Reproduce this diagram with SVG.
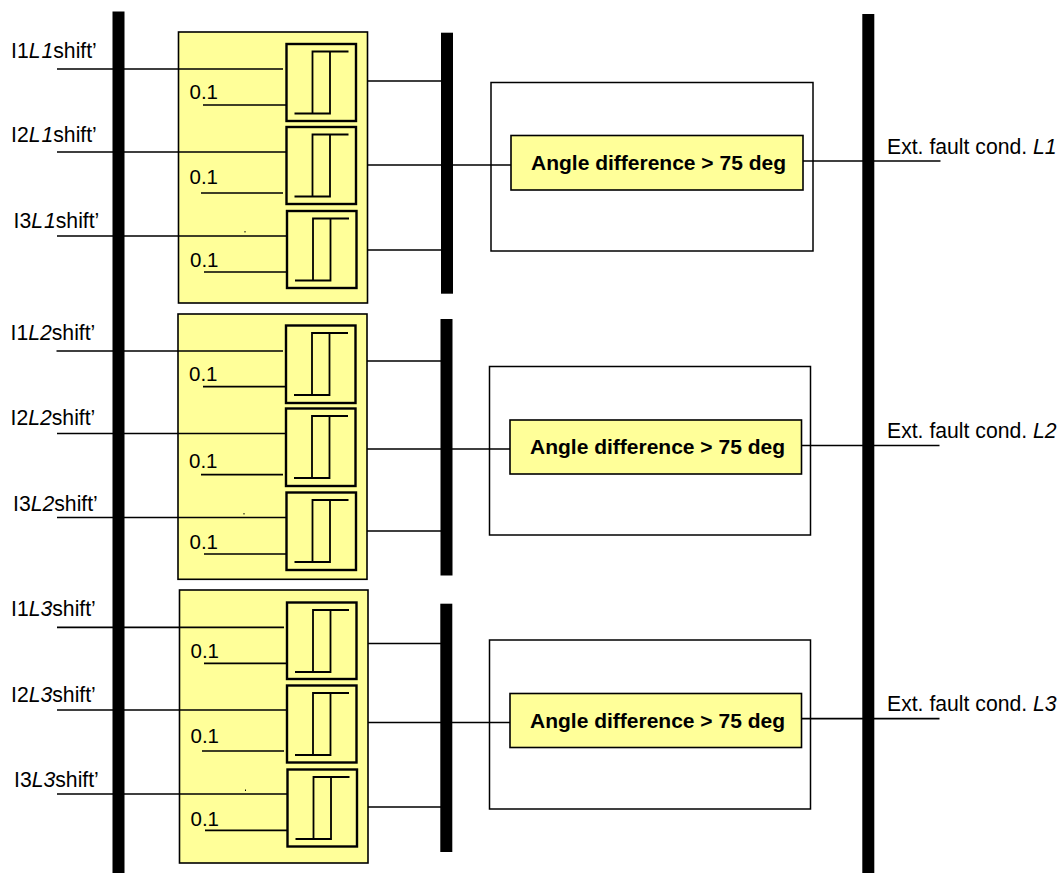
<svg xmlns="http://www.w3.org/2000/svg" xmlns:xlink="http://www.w3.org/1999/xlink" width="1062" height="873" viewBox="0 0 1062 873">
<style>
text{font-family:"Liberation Sans",Arial,sans-serif;font-size:21.200px;fill:#000}
.it{font-style:italic}
.b{font-weight:bold;font-size:21px}
.v{font-size:20.500px}
.bar{fill:#000}
.panel{fill:#FFFF99;stroke:#000;stroke-width:1.6}
.frame{fill:#fff;stroke:#000;stroke-width:1.5}
.calc{fill:#FFFF99;stroke:#000;stroke-width:1.6}
.relay{fill:#FFFF99;stroke:#000;stroke-width:2.4}
.hyst{fill:none;stroke:#000;stroke-width:1.800}
.w{stroke:#000;stroke-width:1.700;fill:none}
</style>
<defs>
<path id="h" class="hyst" d="M8 69.500H43.500V7.500H26V69.500M26 7.500H62"/>
</defs>
<g id="panels">
<g id="panel-1"><rect class="panel" x="178.500" y="32" width="189" height="271"/></g>
<g id="panel-2"><rect class="panel" x="178" y="314" width="189" height="265.300"/></g>
<g id="panel-3"><rect class="panel" x="179.500" y="590" width="188.500" height="273"/></g>
</g>
<g id="frames">
<rect class="frame" x="491" y="82.500" width="322" height="168.500"/>
<rect class="frame" x="489.500" y="366.500" width="321" height="168.500"/>
<rect class="frame" x="489.500" y="640" width="321" height="169"/>
</g>
<g id="connectors">
<path class="w" d="M57 69H283M57 152H286M57 236H287M203 105H286M201 193H283M204 272H287"/>
<path class="w" d="M367.500 81H441M367.500 165H511M367.500 250H441"/>
<path class="w" d="M803 161H940.500"/>
<path class="w" d="M56.500 351H283M57 433.500H285M57 517.500H286M203 386.700H285M201 474.700H283M204 554H286"/>
<path class="w" d="M367 361H441M367 449H510M367 531H441"/>
<path class="w" d="M802 445.500H939.500"/>
<path class="w" d="M57 627.300H284M57 710H286M57 794H287M204 663.300H286M202 751H284M205 830.300H287"/>
<path class="w" d="M368 643.500H441M368 722.500H510M368 807H441"/>
<path class="w" d="M802 718.700H939.500"/>
</g>
<g id="buses">
<rect id="bus-left" class="bar" x="112.500" y="11.500" width="12" height="861.500"/>
<rect id="bus-right" class="bar" x="862.300" y="14" width="12" height="859"/>
<rect id="bus-1" class="bar" x="441" y="32.700" width="12" height="261"/>
<rect id="bus-2" class="bar" x="440.500" y="319" width="12" height="256.500"/>
<rect id="bus-3" class="bar" x="440.300" y="603.700" width="12" height="248.300"/>
</g>
<g id="relay-1-1" transform="translate(286.500 44)"><rect class="relay" width="69.500" height="77"/><use xlink:href="#h" href="#h"/></g>
<g id="relay-1-2" transform="translate(286.500 127)"><rect class="relay" width="69.500" height="77"/><use xlink:href="#h" href="#h"/></g>
<g id="relay-1-3" transform="translate(287 211)"><rect class="relay" width="69.500" height="77"/><use xlink:href="#h" href="#h"/></g>
<g id="relay-2-1" transform="translate(286 325.500)"><rect class="relay" width="69.500" height="77.500"/><use xlink:href="#h" href="#h"/></g>
<g id="relay-2-2" transform="translate(286 408.500)"><rect class="relay" width="69.500" height="77.500"/><use xlink:href="#h" href="#h"/></g>
<g id="relay-2-3" transform="translate(286.500 492.500)"><rect class="relay" width="69.500" height="77.500"/><use xlink:href="#h" href="#h"/></g>
<g id="relay-3-1" transform="translate(287 602.500)"><rect class="relay" width="69.500" height="76.500"/><use xlink:href="#h" href="#h"/></g>
<g id="relay-3-2" transform="translate(287 685.500)"><rect class="relay" width="69.500" height="77"/><use xlink:href="#h" href="#h"/></g>
<g id="relay-3-3" transform="translate(287.500 769.500)"><rect class="relay" width="69.500" height="77"/><use xlink:href="#h" href="#h"/></g>
<g id="calc-1"><rect class="calc" x="511" y="135.500" width="292" height="54.500"/><text class="b" x="531" y="170">Angle difference &gt; 75 deg</text></g>
<g id="calc-2"><rect class="calc" x="510" y="420" width="291.500" height="54"/><text class="b" x="530" y="454">Angle difference &gt; 75 deg</text></g>
<g id="calc-3"><rect class="calc" x="510" y="693.500" width="291.500" height="54"/><text class="b" x="530" y="728">Angle difference &gt; 75 deg</text></g>
<g id="labels-inputs">
<text x="11" y="58">I1<tspan class="it">L</tspan><tspan class="it" dx="1">1</tspan>shift’</text>
<text x="11" y="142">I2<tspan class="it">L</tspan><tspan class="it" dx="1">1</tspan>shift’</text>
<text x="13.500" y="228">I3<tspan class="it">L</tspan><tspan class="it" dx="1">1</tspan>shift’</text>
<text x="10.500" y="339.500">I1<tspan class="it">L2</tspan>shift’</text>
<text x="10.500" y="425">I2<tspan class="it">L2</tspan>shift’</text>
<text x="13" y="510.500">I3<tspan class="it">L2</tspan>shift’</text>
<text x="11" y="616">I1<tspan class="it">L3</tspan>shift’</text>
<text x="11" y="702">I2<tspan class="it">L3</tspan>shift’</text>
<text x="14" y="787">I3<tspan class="it">L3</tspan>shift’</text>
</g>
<g id="labels-threshold">
<text class="v" x="189.500" y="99">0.1</text><text class="v" x="189.500" y="184">0.1</text><text class="v" x="190" y="266.700">0.1</text>
<text class="v" x="189" y="381">0.1</text><text class="v" x="189" y="467.700">0.1</text><text class="v" x="189.500" y="549">0.1</text>
<text class="v" x="190.500" y="658.300">0.1</text><text class="v" x="190.500" y="743.300">0.1</text><text class="v" x="190.500" y="826">0.1</text>
</g>
<g id="labels-outputs">
<text x="887" y="153.500">Ext. fault cond. <tspan class="it">L1</tspan></text>
<text x="887" y="438">Ext. fault cond. <tspan class="it">L2</tspan></text>
<text x="887" y="710.700">Ext. fault cond. <tspan class="it">L3</tspan></text>
</g>
<g id="specks">
<rect class="bar" x="244.500" y="231" width="1" height="1.500"/>
<rect class="bar" x="243.500" y="513" width="1" height="1.500"/>
<rect class="bar" x="245" y="789.500" width="1" height="1.500"/>
</g>
</svg>
